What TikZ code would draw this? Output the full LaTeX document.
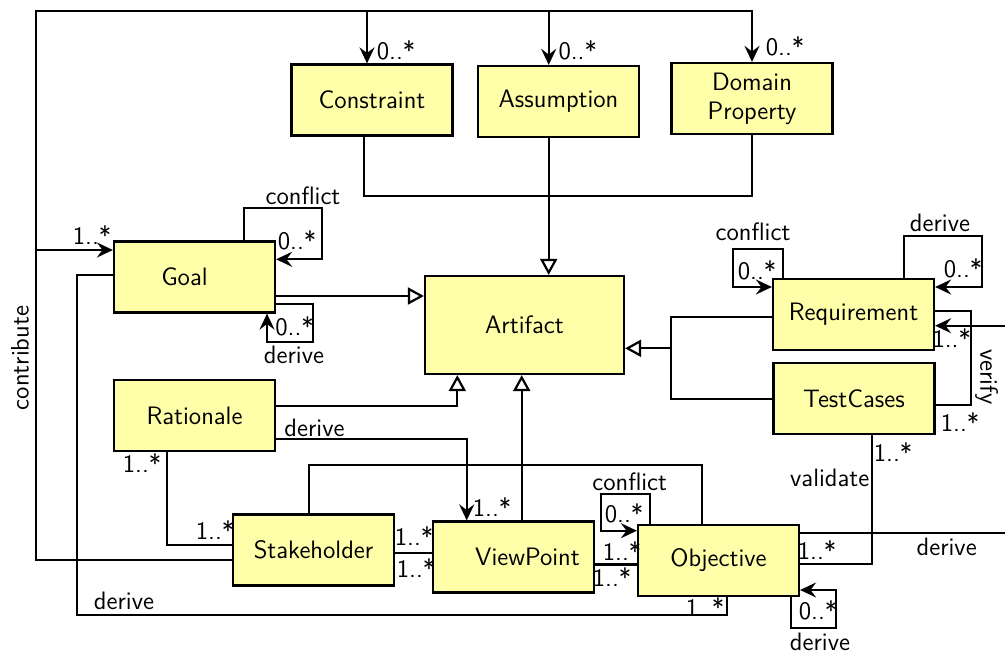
\documentclass[tikz,border=0pt]{standalone}
\usepackage{tikz}
\usetikzlibrary{arrows.meta}
\definecolor{boxyellow}{RGB}{255,255,170}

\begin{document}
\begin{tikzpicture}[
    x=0.5pt, y=-0.5pt, line width=1.1pt,
    font=\sffamily\fontsize{12.6}{14.5}\selectfont,
    cls/.style={draw, fill=boxyellow, minimum width=80.5pt, minimum height=35.5pt, align=center, inner sep=1pt},
    lbl/.style={inner sep=0pt},
    nav/.style={-{Stealth[length=8pt,width=7.5pt,inset=2.8pt]}},
    gen/.style={-{Triangle[open,length=8pt,width=8.5pt]}}
]
    \useasboundingbox (0,0) rectangle (1005,653);
    \clip (0,0) rectangle (1005,653);

    \node[cls] (constraint) at (372,100)   {Constraint};
    \node[cls] (assumption) at (558.5,101.5) {Assumption};
    \node[cls] (domprop)    at (752,98.5)  {Domain\\Property};
    \node[cls, minimum width=99.5pt, minimum height=49pt] (artifact) at (524.5,325) {Artifact};
    \node[cls] (goal)       at (194.5,277) {Goal\hspace*{10pt}};
    \node[cls] (rationale)  at (194.5,415.5) {Rationale};
    \node[cls] (stake)      at (313.5,550) {Stakeholder};
    \node[cls] (viewpt)     at (513.5,557) {\hspace*{14pt}ViewPoint};
    \node[cls] (objective)  at (718.5,560.5) {Objective};
    \node[cls] (req)        at (853.5,314.5) {Requirement};
    \node[cls] (testc)      at (854,398.5) {TestCases};

    \coordinate (busjoin) at (548.7,196);
    \coordinate (reqjoin) at (670.7,348.3);

    \draw[nav] (stake.west |- 0,560) -| (36,11) -| (domprop.north);
    \draw[nav] (367,11) -- (constraint.north -| 367,0);
    \draw[nav] (548.7,11) -- (assumption.north -| 548.7,0);
    \draw[nav] (36,250) -- (goal.west |- 0,250);

    \draw (constraint.south -| 364,0) |- (domprop.south |- busjoin) -- (domprop.south);
    \draw[gen] (assumption.south -| busjoin) -- (artifact.north -| busjoin);

    \draw[gen] (goal.east |- 0,296) -- (artifact.west |- 0,296);
    \draw[nav] (goal.north -| 244,0) |- (321.7,208) |- (goal.east |- 0,259.3);
    \draw[nav] (goal.east |- 0,304.3) -| (313,341.7) -| (goal.south -| 267,0);
    \draw (goal.west |- 0,275.3) -| (76.7,615) -| (objective.south -| 727.3,0);

    \draw[gen] (rationale.east |- 0,406) -| (artifact.south -| 457.3,0);
    \draw[nav] (rationale.east |- 0,439) -| (viewpt.north -| 466.7,0);
    \draw (rationale.south -| 166.7,0) |- (stake.west |- 0,544.7);

    \draw (stake.east |- 0,552.7) -- (viewpt.west |- 0,552.7);
    \draw[gen] (viewpt.north -| 521.7,0) -- (artifact.south -| 521.7,0);
    \draw (stake.north -| 309,0) |- (702.3,465) -- (objective.north -| 702.3,0);
    \draw (viewpt.east |- 0,564.5) -- (objective.west |- 0,564.5);

    \draw[nav] (objective.north -| 650,0) |- (601,494.3) |- (objective.west |- 0,530.7);
    \draw[nav] (objective.south -| 791,0) |- (836,627.7) |- (objective.east |- 0,590);
    \draw[nav] (objective.east |- 0,532.7) -- (1020,532.7) |- (req.east |- 0,325.7);
    \draw (testc.south -| 871.7,0) |- (objective.east |- 0,564);

    \draw (testc.east |- 0,405) -| (971,311) -- (req.east |- 0,311);
    \draw (req.west |- 0,316.7) -| (reqjoin) |- (testc.west |- 0,399.3);
    \draw[gen] (reqjoin) -- (artifact.east |- reqjoin);
    \draw[nav] (req.north -| 782.7,0) |- (732.7,249.3) |- (req.west |- 0,287);
    \draw[nav] (req.north -| 904,0) |- (982,235.7) |- (req.east |- 0,287);

    \foreach \n/\x/\y/\t in {
        cnst-m/396/50/{0..*}, asmp-m/577.7/50/{0..*}, domp-m/785/46/{0..*},
        goal-m/92/235/{1..*}, gconf-m/297/240/{0..*}, gconf-l/303/196/conflict,
        gder-m/294.5/326.7/{0..*}, gder-l/294/355/derive,
        gobj-l/124/600.7/derive, gobj-m/705/606.7/{1..*},
        rder-l/314.5/427.7/derive, rvp-m/492/507/{1..*},
        rst-m/142/463/{1..*}, str-m/215/530/{1..*},
        svp-m/414/536/{1..*}, vps-m/416/568/{1..*},
        vpo-m/622/550.7/{1..*}, ovp-m/612/577.3/{1..*},
        oconf-l/629.7/481.7/conflict, oconf-m/624/513/{0..*},
        oder-m/818/610/{0..*}, oder-l/820/641.7/derive,
        oreq-l/946.7/546.7/derive,
        val-m/893/451.7/{1..*}, val-l/829.7/478.3/validate, valo-m/817/550/{1..*},
        ver-m/951.7/338.3/{1..*}, vert-m/960/421.7/{1..*},
        rconf-l/753/231.7/conflict, rconf-m/757/270/{0..*},
        rder-l2/940/223.3/derive, rder-m/963/268.3/{0..*}}
        \node[lbl] (\n) at (\x,\y) {\t};
    \node[lbl, rotate=90] (contrib-l) at (20,358) {contribute};
    \node[lbl, rotate=-90] (verify-l) at (986.7,376.7) {verify};
\end{tikzpicture}
\end{document}
